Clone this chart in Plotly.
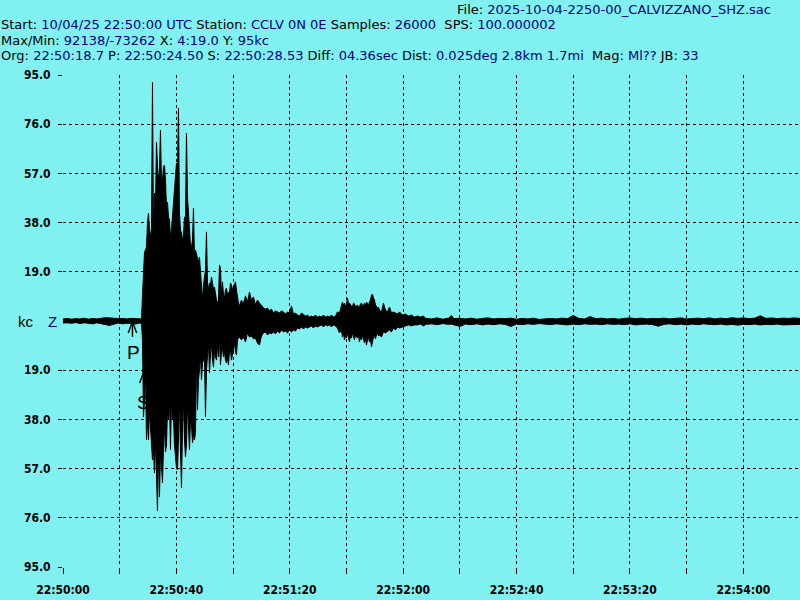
import plotly.graph_objects as go

# ---------------- header information ----------------
file_name = "2025-10-04-2250-00_CALVIZZANO_SHZ.sac"
start_text = "10/04/25 22:50:00 UTC"
station = "CCLV 0N 0E"
samples = "26000"
sps = "100.000002"
max_min = "92138/-73262"
x_info = "4:19.0"
y_info = "95kc"
org_time = "22:50:18.7"
p_text = "22:50:24.50"
s_text = "22:50:28.53"
diff_text = "04.36sec"
dist_text = "0.025deg 2.8km 1.7mi"
mag_text = "Ml??"
jb_text = "33"

# pick times in seconds after 22:50:00
p_time = 24.50
s_time = 28.53

# ---------------- axes ----------------
x_tick_seconds = [0, 20, 40, 60, 80, 100, 120, 140, 160, 180, 200, 220, 240]
x_tick_labels = ["22:50:00", "", "22:50:40", "", "22:51:20", "", "22:52:00", "",
                 "22:52:40", "", "22:53:20", "", "22:54:00"]
y_tick_values = [95, 76, 57, 38, 19, -19, -38, -57, -76, -95]
y_tick_labels = ["95.0", "76.0", "57.0", "38.0", "19.0", "19.0", "38.0", "57.0", "76.0", "95.0"]

# ---------------- trace envelope (seconds, kilo-counts) ----------------
trace_time = [
    0.0, 1.5, 3.0, 4.5, 6.0, 7.5, 9.0, 10.5, 12.0, 13.5, 15.0, 16.5, 18.0, 19.5, 21.0,
    22.5, 24.0, 25.5, 27.0, 27.7,
    28.04, 28.39, 28.75, 29.10, 29.45, 29.80, 30.16, 30.51, 30.86, 31.21, 31.57, 31.92,
    32.27, 32.63, 32.98, 33.33, 33.68, 34.04, 34.39, 34.74, 35.09, 35.45, 35.80, 36.15,
    36.51, 36.86, 37.21, 37.56, 37.92, 38.27, 38.62, 38.98, 39.33, 39.68, 40.03, 40.39,
    40.74, 41.09, 41.45, 41.80, 42.15, 42.50, 42.86, 43.21, 43.56, 43.91, 44.27, 44.62,
    44.97, 45.33, 45.68, 46.03, 46.38, 46.74, 47.09, 47.44, 47.80, 48.15, 48.50, 48.85,
    49.21, 49.56, 49.91, 50.26, 50.62, 50.97, 51.32, 51.68, 52.03, 52.38, 52.73, 53.09,
    53.44, 53.79, 54.15, 54.50, 54.85, 55.20, 55.56, 55.91, 56.26, 56.61, 56.97, 57.32,
    57.67, 58.03, 58.38, 58.73, 59.08, 59.44, 59.79, 60.14, 60.50, 60.85, 61.20, 61.55,
    61.91, 62.26,
    62.96, 63.67, 64.38, 65.08, 65.78, 66.49, 67.19, 67.90, 68.60, 69.31, 70.02, 70.72,
    71.43, 72.13, 72.84, 73.54, 74.25, 74.96, 75.66, 76.37, 77.07, 77.78, 78.48, 79.19,
    79.89, 80.60, 81.30, 82.01, 82.72, 83.42, 84.13, 84.83, 85.54, 86.24, 86.95, 87.65,
    88.36, 89.06, 89.77, 90.48, 91.18, 91.89, 92.59, 93.30, 94.00, 94.71, 95.41, 96.12,
    96.82, 97.53, 98.24, 98.59, 98.94, 99.29, 99.65, 100.00, 100.35, 100.71, 101.06,
    101.41, 101.76, 102.12, 102.47, 102.82, 103.18, 103.53, 103.88, 104.23, 104.59,
    104.94, 105.29, 105.65, 106.00, 106.35, 106.70, 107.06, 107.41, 107.76, 108.12,
    108.47, 108.82, 109.17, 109.53, 109.88, 110.23, 110.59, 110.94, 111.29, 111.64,
    112.35, 113.06, 113.76, 114.47, 115.17, 115.88, 116.58, 117.29, 117.99, 118.70,
    119.76, 120.81, 121.87, 122.93, 123.99, 125.05, 126.10, 127.16,
    128, 130, 132, 134, 136, 137, 138, 140, 142, 144, 146, 148, 150, 152, 154, 156, 158,
    160, 162, 164, 166, 168, 170, 172, 174, 176, 178, 180, 182, 184, 186, 188, 190, 192,
    194, 196, 198, 200, 202, 204, 206, 208, 210, 212, 214, 216, 218, 220, 222, 224, 226,
    228, 230, 232, 234, 236, 238, 240, 242, 244, 246, 248, 250, 252, 254, 256, 258, 260,
]
trace_upper = [
    0.8, 1.0, 0.7, 0.9, 0.8, 1.1, 0.7, 1.0, 0.8, 1.1, 1.3, 1.2, 1.0, 0.9, 1.0,
    0.8, 1.0, 0.9, 1.0, 0.8,
    9.7, 15.8, 26.6, 27.4, 28.6, 37.8, 41.7, 35.1, 32.4, 35.9, 92.1, 33.2,
    49.4, 44.8, 69.1, 59.5, 54.4, 59.1, 73.7, 53.7, 54.4, 59.5, 60.2, 54.4,
    44.0, 45.9, 40.2, 39.0, 32.4, 35.1, 40.2, 46.7, 52.5, 56.4, 61.0, 58.3,
    82.2, 41.7, 35.1, 34.0, 31.3, 33.2, 40.2, 39.0, 72.6, 47.9, 40.9, 32.4,
    29.3, 28.6, 31.3, 43.6, 24.7, 27.4, 25.5, 24.7, 22.8, 24.7, 19.7, 17.0,
    8.1, 13.9, 17.0, 19.7, 34.4, 14.7, 12.0, 14.7, 13.9, 17.0, 14.7, 12.0,
    13.1, 10.0, 8.1, 6.9, 8.1, 21.6, 20.5, 9.3, 15.1, 10.0, 8.9, 12.0,
    12.7, 10.0, 11.2, 10.8, 14.7, 13.9, 12.0, 13.1, 14.7, 15.1, 12.0, 8.1,
    6.9, 5.8,
    8.1, 6.6, 9.7, 7.3, 11.2, 8.1, 9.3, 6.2, 8.1, 6.9, 6.2, 5.0,
    4.6, 5.0, 3.9, 4.6, 3.1, 3.9, 3.5, 3.1, 3.9, 3.5, 2.7, 3.5,
    3.1, 5.8, 2.7, 3.1, 2.3, 1.9, 3.1, 2.3, 1.9, 2.3, 1.5, 1.9,
    1.5, 2.3, 1.5, 1.9, 1.5, 2.3, 1.5, 1.9, 1.5, 2.3, 1.5, 1.9,
    3.5, 3.1, 5.4, 7.3, 6.2, 6.9, 5.8, 6.2, 8.9, 6.6, 6.9,
    6.2, 5.8, 5.4, 6.9, 6.6, 5.4, 5.8, 6.2, 5.4, 5.4,
    6.6, 6.9, 6.2, 5.8, 6.9, 6.2, 7.3, 6.9, 6.2, 7.3,
    8.1, 10.0, 10.4, 8.9, 8.1, 6.2, 5.4, 5.0, 5.4, 4.2,
    3.5, 6.9, 4.2, 3.5, 5.4, 3.1, 3.5, 3.1, 2.7, 3.5,
    2.3, 2.7, 1.9, 2.3, 1.5, 1.9, 1.5, 1.9,
    1.0, 0.8, 1.2, 0.7, 1.1, 2.1, 0.9, 1.0, 0.8, 1.1, 0.7, 1.0, 1.2, 0.8, 1.0, 0.9, 1.1,
    0.7, 1.0, 0.8, 1.1, 0.6, 0.9, 1.0, 0.8, 1.1, 0.9, 2.1, 1.0, 0.8, 1.7, 0.9, 1.1, 0.8,
    1.0, 0.7, 1.0, 1.2, 0.9, 1.1, 0.8, 1.0, 0.9, 1.1, 0.8, 1.0, 1.2, 0.8, 1.0, 1.1, 0.9,
    1.2, 0.8, 1.1, 0.9, 1.3, 1.0, 1.2, 0.9, 1.1, 2.0, 1.0, 1.2, 0.9, 1.1, 1.0, 1.2, 1.0,
]
trace_lower = [
    -0.8, -0.7, -0.9, -0.6, -1.0, -0.7, -0.8, -1.1, -0.7, -1.0, -1.4, -1.7, -1.2, -0.8, -1.1,
    -0.9, -1.0, -1.2, -0.8, -1.0,
    -7.3, -37.1, -30.5, -18.9, -45.9, -38.2, -45.9, -34.4, -38.2, -47.1, -53.7, -49.8,
    -58.7, -45.9, -55.6, -73.3, -49.8, -68.0, -50.6, -56.4, -62.5, -49.8, -39.4, -50.6,
    -47.9, -34.4, -38.2, -30.5, -49.8, -30.5, -38.2, -37.1, -47.9, -52.5, -56.8, -57.5,
    -45.9, -30.5, -50.6, -64.5, -42.1, -30.5, -45.9, -52.5, -47.9, -31.7, -42.1, -49.8,
    -38.2, -40.2, -47.1, -44.0, -45.9, -43.2, -13.9, -34.4, -22.8, -18.9, -13.1, -22.8,
    -16.2, -15.1, -13.1, -37.1, -18.9, -16.2, -8.5, -20.1, -13.1, -8.5, -15.1, -17.8,
    -11.2, -13.9, -15.1, -9.3, -13.9, -7.3, -17.0, -12.0, -10.4, -13.9, -12.0, -15.1,
    -16.2, -14.3, -17.0, -12.0, -11.2, -15.1, -13.1, -10.4, -8.5, -12.0, -13.1, -7.3,
    -6.6, -6.2,
    -7.3, -6.2, -8.1, -4.6, -6.2, -5.8, -6.9, -6.6, -8.5, -9.3, -5.8, -4.6,
    -4.2, -5.4, -4.6, -5.0, -4.2, -5.0, -3.9, -4.6, -3.5, -4.2, -3.9, -4.6,
    -3.5, -4.2, -3.5, -3.9, -2.7, -3.1, -2.3, -3.1, -2.3, -2.7, -2.3, -1.9,
    -2.7, -1.9, -2.3, -1.9, -1.5, -2.3, -1.5, -1.9, -1.5, -2.3, -1.5, -1.9,
    -2.7, -4.6, -3.5, -6.2, -4.6, -7.3, -5.4, -6.6, -4.6, -6.2, -8.1,
    -5.8, -6.6, -4.6, -6.2, -7.3, -5.4, -5.8, -6.6, -5.4, -8.1,
    -6.2, -7.3, -5.4, -6.6, -8.5, -6.6, -9.3, -7.3, -6.2, -8.1,
    -7.3, -10.0, -8.5, -6.2, -5.8, -6.9, -5.4, -4.6, -5.8, -5.4,
    -6.2, -4.2, -4.6, -4.2, -3.5, -4.2, -2.7, -3.5, -2.3, -2.7,
    -2.3, -1.9, -1.5, -1.9, -1.5, -1.5, -1.2, -1.9,
    -1.3, -1.1, -1.4, -1.0, -1.3, -1.2, -1.5, -2.1, -1.2, -1.4, -1.1, -1.5, -1.2, -1.4, -1.1, -1.3, -2.1,
    -1.2, -1.4, -1.1, -1.3, -1.0, -1.2, -1.4, -1.1, -1.3, -1.5, -1.2, -1.4, -1.1, -1.3, -1.2, -1.4, -1.1,
    -1.3, -1.2, -1.4, -1.1, -1.5, -1.3, -1.2, -1.4, -2.0, -1.3, -1.1, -1.4, -1.2, -1.5, -1.2, -1.4, -1.1,
    -1.3, -1.4, -1.2, -1.5, -1.3, -1.6, -1.3, -1.4, -1.2, -1.5, -1.3, -1.4, -1.2, -1.5, -1.3, -1.4, -1.3,
]

# ---------------- style ----------------
BG = "#80F0F0"
NAVY = "#000080"
FIG_W, FIG_H = 800, 600
M_L, M_R, M_T, M_B = 63, 0, 75, 33
PW, PH = FIG_W - M_L - M_R, FIG_H - M_T - M_B


def px_x(px):
    return (px - M_L) / PW


def px_y(py):
    return (FIG_H - M_B - py) / PH


def lab(t):
    return t


def val(t):
    return f'<span style="color:{NAVY}">{t}</span>'


fig = go.Figure()

# P / S pick markers (arrow glyphs anchored on the pick times)
arrow_dx, arrow_dy, stem = 1.5, 4.3, 5.8
p_apex, s_apex = -0.3, -19.6
for t0, a in ((p_time, p_apex), (s_time, s_apex)):
    fig.add_trace(go.Scatter(
        x=[t0 - arrow_dx, t0, t0 + arrow_dx, None, t0, t0],
        y=[a - arrow_dy, a, a - arrow_dy, None, a, a - stem],
        mode="lines", line=dict(color="black", width=1.4),
        hoverinfo="skip", showlegend=False))

poly_x = trace_time + trace_time[::-1]
poly_y = trace_upper + trace_lower[::-1]
fig.add_trace(go.Scatter(
    x=poly_x, y=poly_y, mode="lines", fill="toself", fillcolor="black",
    line=dict(color="black", width=1), hoverinfo="skip", showlegend=False))

axis_font = dict(family="DejaVu Sans Condensed, DejaVu Sans, sans-serif", size=12,
                 color="black", weight="bold")
fig.update_xaxes(range=[0, 260], tickvals=x_tick_seconds, ticktext=x_tick_labels,
                 showgrid=True, gridcolor="black", gridwidth=1, griddash="3px,3px",
                 zeroline=False, showline=False, ticks="outside", ticklen=6,
                 tickcolor="black", tickwidth=1, tickfont=axis_font,
                 ticklabelstandoff=6)
fig.update_yaxes(range=[-95, 95], tickvals=y_tick_values, ticktext=y_tick_labels,
                 showgrid=True, gridcolor="black", gridwidth=1, griddash="3px,3px",
                 zeroline=False, showline=False, ticks="outside", ticklen=4,
                 tickcolor="black", tickwidth=1, tickfont=axis_font,
                 ticklabelstandoff=5)

hfont = dict(family="DejaVu Sans, sans-serif", size=13, color="black")
header_lines = [
    (613.5, 9, "center", lab("File: ") + val(file_name)),
    (0, 24.5, "left", lab("Start: ") + val(start_text) + lab(" Station: ") + val(station)
     + lab(" Samples: ") + val(samples) + "&nbsp; " + lab("SPS: ") + val(sps)),
    (0, 40, "left", lab("Max/Min: ") + val(max_min) + lab(" X: ") + val(x_info)
     + lab(" Y: ") + val(y_info)),
    (0, 55.5, "left", lab("Org: ") + val(org_time) + lab(" P: ") + val(p_text)
     + lab(" S: ") + val(s_text) + lab(" Diff: ") + val(diff_text)
     + lab(" Dist: ") + val(dist_text) + "&nbsp; " + lab("Mag: ") + val(mag_text)
     + lab(" JB: ") + val(jb_text)),
]
annotations = []
for px, py, anchor, txt in header_lines:
    annotations.append(dict(x=px_x(px), y=px_y(py), xref="paper", yref="paper",
                            xanchor=anchor, yanchor="middle", text=txt,
                            showarrow=False, font=hfont, borderpad=0))

yl_font = dict(family="Liberation Sans, Arial, sans-serif", size=15, color="black")
annotations.append(dict(x=px_x(26), y=0, xref="paper", yref="y", text="kc",
                        showarrow=False, font=yl_font, xanchor="center", yanchor="middle"))
annotations.append(dict(x=px_x(52.5), y=0, xref="paper", yref="y", text="Z",
                        showarrow=False, font=dict(yl_font, color=NAVY),
                        xanchor="center", yanchor="middle"))

pick_font = dict(family="Liberation Sans, Arial, sans-serif", size=19, color="black")
annotations.append(dict(x=p_time + 0.4, y=p_apex - 11.8, xref="x", yref="y", text="P",
                        showarrow=False, font=pick_font))
annotations.append(dict(x=s_time, y=s_apex - 11.7, xref="x", yref="y", text="S",
                        showarrow=False, font=pick_font))

fig.update_layout(width=FIG_W, height=FIG_H, autosize=False,
                  margin=dict(l=M_L, r=M_R, t=M_T, b=M_B, pad=0),
                  paper_bgcolor=BG, plot_bgcolor=BG, showlegend=False,
                  annotations=annotations)

fig.write_html("out.html", config={"displayModeBar": False},
               post_script="document.body.style.margin='0';")
